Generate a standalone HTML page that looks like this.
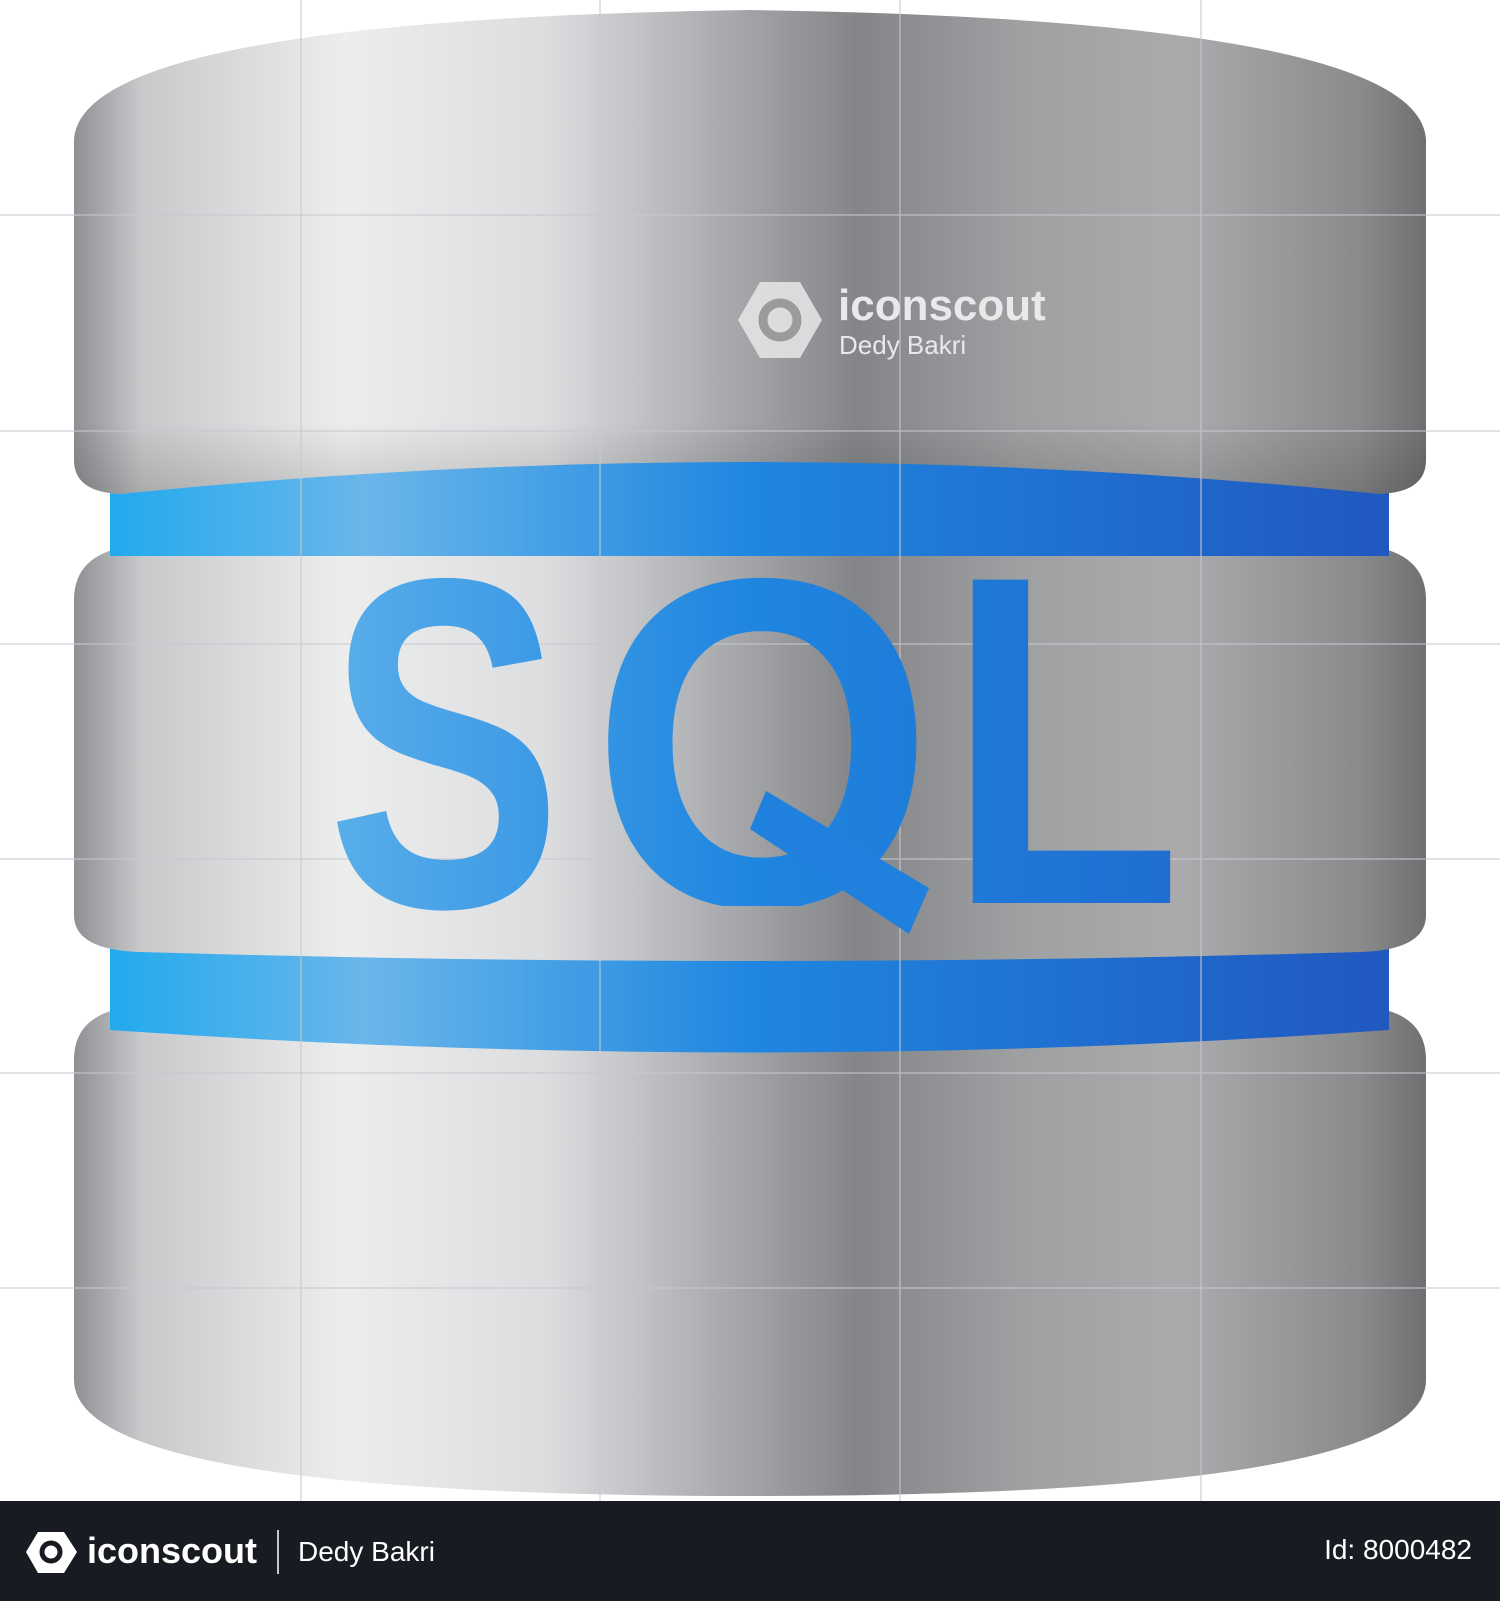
<!DOCTYPE html>
<html><head><meta charset="utf-8"><style>
html,body{margin:0;padding:0;background:#fff;}
body{width:1500px;height:1601px;overflow:hidden;position:relative;font-family:"Liberation Sans",sans-serif;}
svg{position:absolute;left:0;top:0;}
</style></head><body>
<svg width="1500" height="1601" viewBox="0 0 1500 1601">
<defs>
<linearGradient id="metal" x1="0" x2="1" y1="0" y2="0">
<stop offset="0" stop-color="#8e9093"/>
<stop offset="0.05" stop-color="#c8c9cb"/>
<stop offset="0.2" stop-color="#eceded"/>
<stop offset="0.35" stop-color="#dcdddf"/>
<stop offset="0.45" stop-color="#b4b6b9"/>
<stop offset="0.58" stop-color="#838588"/>
<stop offset="0.7" stop-color="#9fa0a2"/>
<stop offset="0.82" stop-color="#aaabad"/>
<stop offset="0.95" stop-color="#8a8b8d"/>
<stop offset="1" stop-color="#6f7072"/>
</linearGradient>
<linearGradient id="blue" x1="0" x2="1" y1="0" y2="0">
<stop offset="0" stop-color="#22aaee"/>
<stop offset="0.2" stop-color="#6ab6ea"/>
<stop offset="0.5" stop-color="#1f87e0"/>
<stop offset="1" stop-color="#2058c0"/>
</linearGradient>
<linearGradient id="sqlg" gradientUnits="userSpaceOnUse" x1="327" x2="1172" y1="0" y2="0">
<stop offset="0" stop-color="#5aaeea"/>
<stop offset="0.5" stop-color="#1f86e0"/>
<stop offset="1" stop-color="#1f6ed0"/>
</linearGradient>
<linearGradient id="vshade" x1="0" x2="0" y1="0" y2="1">
<stop offset="0" stop-color="#000" stop-opacity="0"/>
<stop offset="0.85" stop-color="#000" stop-opacity="0"/>
<stop offset="1" stop-color="#000" stop-opacity="0.15"/>
</linearGradient>
<clipPath id="qclip"><rect x="0" y="0" width="1500" height="906"/></clipPath>
</defs>
<path d="M74 1060 Q74 1010 140 1006 L1360 1006 Q1426 1010 1426 1060 L1426 1380 Q1426 1496 750 1496 Q74 1496 74 1380 Z" fill="url(#metal)"/>
<path d="M110 944 L1389 944 L1389 1030 Q750 1075 110 1030 Z" fill="url(#blue)"/>
<path d="M74 600 Q74 550 140 545 Q750 520 1360 545 Q1426 550 1426 600 L1426 915 Q1426 950 1360 952 Q750 970 140 952 Q74 950 74 915 Z" fill="url(#metal)"/>
<path d="M110 470 Q750 430 1389 470 L1389 556 L110 556 Z" fill="url(#blue)"/>
<path d="M74 140 Q80 20 750 10 Q1420 20 1426 140 L1426 460 Q1426 492 1380 494 Q750 430 120 494 Q74 492 74 460 Z" fill="url(#metal)"/>
<path d="M74 140 Q80 20 750 10 Q1420 20 1426 140 L1426 460 Q1426 492 1380 494 Q750 430 120 494 Q74 492 74 460 Z" fill="url(#vshade)"/>
<g stroke="#c8c9d0" stroke-width="1.5" opacity="0.7">
<line x1="301" y1="0" x2="301" y2="1501"/><line x1="600" y1="0" x2="600" y2="1501"/>
<line x1="900" y1="0" x2="900" y2="1501"/><line x1="1201" y1="0" x2="1201" y2="1501"/>
<line x1="0" y1="215" x2="1500" y2="215"/><line x1="0" y1="431" x2="1500" y2="431"/>
<line x1="0" y1="644" x2="1500" y2="644"/><line x1="0" y1="859" x2="1500" y2="859"/>
<line x1="0" y1="1073" x2="1500" y2="1073"/><line x1="0" y1="1288" x2="1500" y2="1288"/>
</g>
<g font-family="Liberation Sans" font-weight="bold" font-size="470" fill="url(#sqlg)">
<text x="327" y="906" textLength="235" lengthAdjust="spacingAndGlyphs">S</text>
<text x="590" y="906" textLength="345" lengthAdjust="spacingAndGlyphs" clip-path="url(#qclip)">Q</text>
<text x="947" y="903" textLength="235" lengthAdjust="spacingAndGlyphs">L</text>
</g>
<polygon points="750,829 766,791 929,888 909,934" fill="#1f80dd"/>
<polygon points="760,282 800,282 822,320 800,358 760,358 738,320" fill="#e6e7e8" opacity="0.85"/>
<circle cx="780" cy="320" r="17" fill="none" stroke="#9a9b9d" stroke-width="9"/>
<text x="838" y="320" font-family="Liberation Sans" font-weight="bold" font-size="44" fill="#e8e9ea">iconscout</text>
<text x="839" y="354" font-family="Liberation Sans" font-size="26" fill="#e8e9ea">Dedy Bakri</text>
<rect x="0" y="1501" width="1500" height="100" fill="#181b22"/>
<polygon points="38,1532 64,1532 77,1552 64,1573 38,1573 26,1552" fill="#fff"/>
<circle cx="51" cy="1552" r="9" fill="none" stroke="#181b22" stroke-width="5"/>
<text x="87" y="1563" font-family="Liberation Sans" font-weight="bold" font-size="36" fill="#fff">iconscout</text>
<line x1="278" y1="1530" x2="278" y2="1574" stroke="#fff" stroke-width="1.5"/>
<text x="298" y="1561" font-family="Liberation Sans" font-size="28" fill="#fff">Dedy Bakri</text>
<text x="1472" y="1559" text-anchor="end" font-family="Liberation Sans" font-size="28" fill="#fff">Id: 8000482</text>
</svg>
</body></html>
